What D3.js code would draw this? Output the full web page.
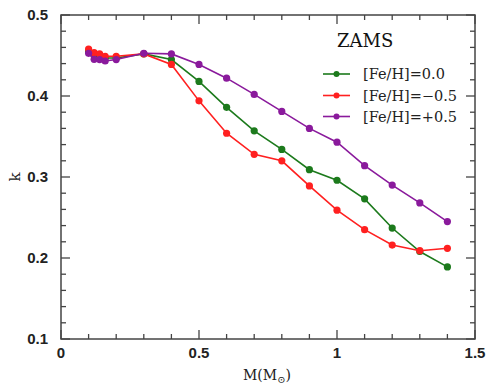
<!DOCTYPE html>
<html><head><meta charset="utf-8">
<script src="https://cdn.jsdelivr.net/npm/d3@7"></script>
<style>body{margin:0;background:#fff}</style>
</head><body>
<svg id="c" width="488" height="385"></svg>
<script>
const masses = [0.1,0.12,0.14,0.16,0.2,0.3,0.4,0.5,0.6,0.7,0.8,0.9,1.0,1.1,1.2,1.3,1.4];
const kSolar = [0.455,0.450,0.448,0.447,0.447,0.452,0.445,0.418,0.386,0.357,0.334,0.309,0.296,0.273,0.237,0.208,0.189];
const kMetalPoor = [0.458,0.4535,0.452,0.449,0.449,0.452,0.439,0.394,0.354,0.328,0.320,0.289,0.259,0.235,0.216,0.209,0.212];
const kMetalRich = [0.4527,0.4453,0.445,0.4432,0.445,0.4527,0.452,0.439,0.422,0.402,0.381,0.360,0.343,0.314,0.290,0.268,0.245];
const seriesNames = ["[Fe/H]=0.0","[Fe/H]=\u22120.5","[Fe/H]=+0.5"];
const seriesColors = ["#1c7a1c","#ff2020","#8a1a9c"];
const xTicks = [0,0.5,1,1.5];
const yTicks = [0.1,0.2,0.3,0.4,0.5];

const svg = d3.select("#c");
const x = d3.scaleLinear().domain([0,1.5]).range([61,475]);
const y = d3.scaleLinear().domain([0.1,0.5]).range([339,15]);
const axisCol = "#444";

svg.append("rect").attr("x",61).attr("y",15).attr("width",414).attr("height",324)
  .attr("fill","none").attr("stroke",axisCol).attr("stroke-width",1.5);

const xMinor = d3.range(0,1.5001,0.1);
const yMinor = d3.range(0.1,0.5001,0.02);
const isMajorX = v => Math.abs(v*2 - Math.round(v*2))<1e-6;
const isMajorY = v => Math.abs(v*10 - Math.round(v*10))<1e-6;
const tg = svg.append("g").attr("stroke",axisCol).attr("stroke-width",1.3);
xMinor.forEach(v=>{
  const L = isMajorX(v)?9:5;
  tg.append("line").attr("x1",x(v)).attr("x2",x(v)).attr("y1",339).attr("y2",339-L);
  tg.append("line").attr("x1",x(v)).attr("x2",x(v)).attr("y1",15).attr("y2",15+L);
});
yMinor.forEach(v=>{
  const L = isMajorY(v)?9:5;
  tg.append("line").attr("y1",y(v)).attr("y2",y(v)).attr("x1",61).attr("x2",61+L);
  tg.append("line").attr("y1",y(v)).attr("y2",y(v)).attr("x1",475).attr("x2",475-L);
});

const tickFont = "'Liberation Sans', Arial, sans-serif";
svg.append("g").selectAll("text").data(xTicks).join("text")
  .attr("x",d=>x(d)).attr("y",358).attr("text-anchor","middle")
  .attr("font-family",tickFont).attr("font-size",15).attr("font-weight","bold").attr("fill","#222")
  .text(d=>d3.format("")(d));
svg.append("g").selectAll("text").data(yTicks).join("text")
  .attr("x",48).attr("y",d=>y(d)+5).attr("text-anchor","end")
  .attr("font-family",tickFont).attr("font-size",15).attr("font-weight","bold").attr("fill","#222")
  .text(d=>d3.format(".1f")(d));

const serif = "'DejaVu Serif',serif";
const xl = svg.append("text").attr("x",267).attr("y",380).attr("text-anchor","middle")
  .attr("font-family",serif).attr("font-size",14).attr("fill","#222");
xl.append("tspan").text("M(M");
xl.append("tspan").attr("font-size",10).attr("dy",3).text("\u2299");
xl.append("tspan").attr("dy",-3).text(")");
svg.append("text").attr("transform","translate(20,177) rotate(-90)").attr("text-anchor","middle")
  .attr("font-family",serif).attr("font-size",15).attr("fill","#222").text("k");

const data = [kSolar,kMetalPoor,kMetalRich];
const line = d3.line().x((d,i)=>x(masses[i])).y(d=>y(d));
data.forEach((arr,si)=>{
  const g = svg.append("g");
  g.append("path").attr("d",line(arr)).attr("fill","none").attr("stroke",seriesColors[si]).attr("stroke-width",1.6);
  g.selectAll("circle").data(arr).join("circle")
    .attr("cx",(d,i)=>x(masses[i])).attr("cy",d=>y(d)).attr("r",3.6).attr("fill",seriesColors[si]);
});

svg.append("text").attr("x",337).attr("y",47).attr("font-family",serif).attr("font-size",18)
  .attr("fill","#111").text("ZAMS");
const ly = [74,95.5,116.5];
seriesNames.forEach((n,i)=>{
  svg.append("line").attr("x1",323).attr("x2",350).attr("y1",ly[i]).attr("y2",ly[i])
    .attr("stroke",seriesColors[i]).attr("stroke-width",1.6);
  svg.append("circle").attr("cx",336.5).attr("cy",ly[i]).attr("r",3).attr("fill",seriesColors[i]);
  svg.append("text").attr("x",363).attr("y",ly[i]+5).attr("font-family",serif).attr("font-size",14.5)
    .attr("fill","#222").text(n);
});
</script>
</body></html>
